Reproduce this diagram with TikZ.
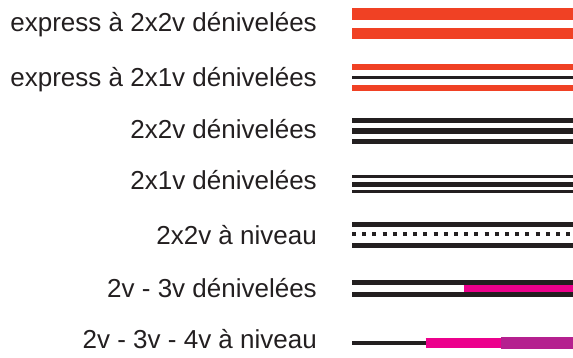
\documentclass[tikz,border=0pt]{standalone}
\usepackage{fontspec}
\setmainfont{Liberation Sans}
\usetikzlibrary{calc}

\definecolor{exred}{HTML}{F04124}
\definecolor{inkblack}{HTML}{231F20}
\definecolor{roadpink}{HTML}{EC008C}
\definecolor{roadpurple}{HTML}{B5208F}

\tikzset{
  lbl/.style={anchor=base east, inner sep=0pt, text=inkblack,
    font=\fontsize{26}{30}\selectfont},
  band/.style={line width=#1, line cap=butt}
}

\begin{document}
\begin{tikzpicture}[x=1pt,y=-1pt]
\useasboundingbox (0,0) rectangle (573,358);
\coordinate(L) at (352,0);
\coordinate(R) at (573,0);

% express 2x2v
\node[lbl] (t1) at (317,31.7) {express à 2x2v dénivelées};
\draw[exred,band=11.2pt] ($(L)+(0,14.1)$)--($(R)+(0,14.1)$);
\draw[exred,band=11.3pt] ($(L)+(0,33.4)$)--($(R)+(0,33.4)$);

% express 2x1v
\node[lbl] (t2) at (317,86.7) {express à 2x1v dénivelées};
\draw[exred,band=5.7pt] ($(L)+(0,67.2)$)--($(R)+(0,67.2)$);
\draw[inkblack,band=3.6pt] ($(L)+(0,77.5)$)--($(R)+(0,77.5)$);
\draw[exred,band=5.4pt] ($(L)+(0,88)$)--($(R)+(0,88)$);

% 2x2v
\node[lbl] (t3) at (317,138.3) {2x2v dénivelées};
\draw[inkblack,band=5.3pt] ($(L)+(0,120.4)$)--($(R)+(0,120.4)$);
\draw[inkblack,band=5.4pt] ($(L)+(0,131)$)--($(R)+(0,131)$);
\draw[inkblack,band=5.3pt] ($(L)+(0,141.7)$)--($(R)+(0,141.7)$);

% 2x1v
\node[lbl] (t4) at (317,189.3) {2x1v dénivelées};
\draw[inkblack,band=3pt] ($(L)+(0,176.8)$)--($(R)+(0,176.8)$);
\draw[inkblack,band=5.6pt] ($(L)+(0,184.5)$)--($(R)+(0,184.5)$);
\draw[inkblack,band=3pt] ($(L)+(0,191.5)$)--($(R)+(0,191.5)$);

% 2x2v a niveau
\node[lbl] (t5) at (317,244.3) {2x2v à niveau};
\draw[inkblack,band=5.3pt] ($(L)+(0,224.4)$)--($(R)+(0,224.4)$);
\draw[inkblack,band=4pt,dash pattern=on 4pt off 6.2pt] ($(L)+(0,234)$)--($(R)+(0,234)$);
\draw[inkblack,band=5pt] ($(L)+(0,245.2)$)--($(R)+(0,245.2)$);

% 2v - 3v
\node[lbl] (t6) at (317,297.7) {2v - 3v dénivelées};
\draw[inkblack,band=5pt] ($(L)+(0,282.2)$)--($(R)+(0,282.2)$);
\draw[roadpink,band=7.6pt] (463.7,288.5)--($(R)+(0,288.5)$);
\draw[inkblack,band=5pt] ($(L)+(0,294.8)$)--($(R)+(0,294.8)$);

% 2v - 3v - 4v
\node[lbl] (t7) at (317,348.3) {2v - 3v - 4v à niveau};
\coordinate(M1) at (425.7,343);
\coordinate(M2) at (501,343);
\draw[inkblack,band=4.6pt] ($(L)+(0,343)$)--(M1);
\draw[roadpink,band=9.4pt] (M1)--(M2);
\draw[roadpurple,band=11.7pt] (M2)--($(R)+(0,343)$);
\end{tikzpicture}
\end{document}
